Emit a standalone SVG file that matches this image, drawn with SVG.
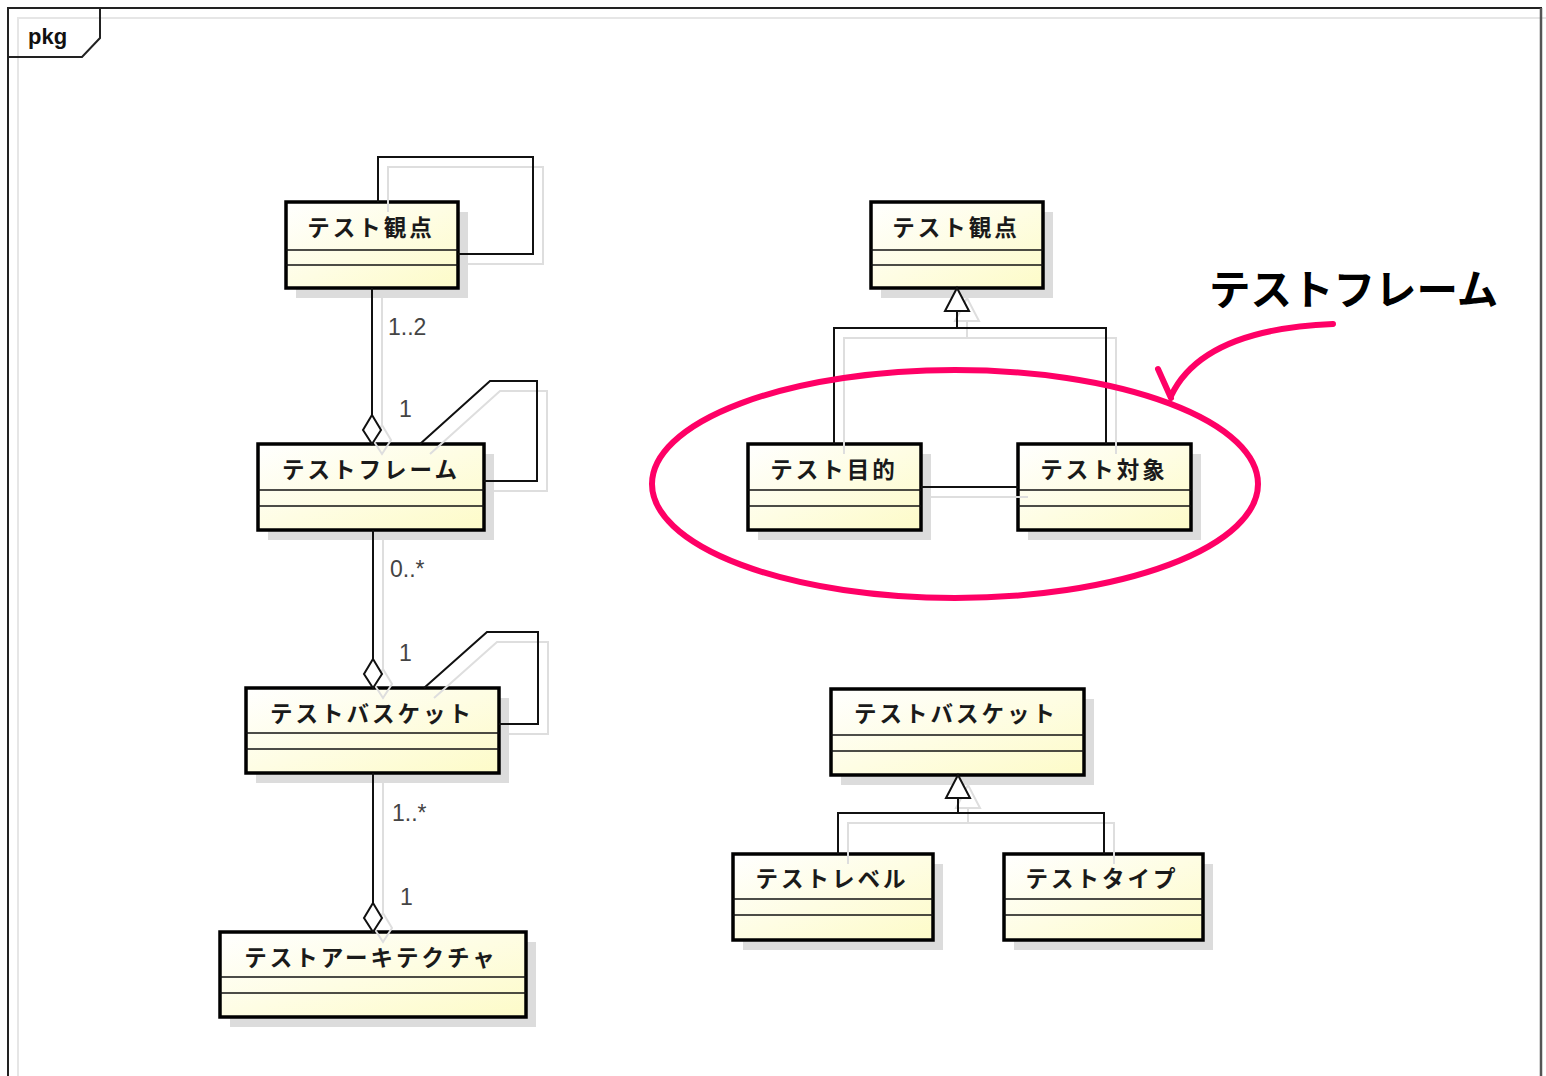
<svg xmlns="http://www.w3.org/2000/svg" width="1546" height="1076" viewBox="0 0 1546 1076">
<style>
.node rect.box{fill:url(#g);stroke:#000;stroke-width:3.5}
.node rect.sh{fill:#dcdcdc;stroke:none}
.node line{stroke:#111;stroke-width:1.5}
.node text{font-family:"Noto Sans CJK JP",sans-serif;font-size:22.5px;font-weight:bold;fill:#1a1a1a;letter-spacing:3px;text-anchor:middle}
.c{fill:none;stroke:#111;stroke-width:2}
.cs{fill:none;stroke:#dedede;stroke-width:2}
.m{font-family:"Liberation Sans",Arial,sans-serif;font-size:23px;fill:#444}
</style>
<defs>
<linearGradient id="g" x1="0" y1="0" x2="1" y2="1">
<stop offset="0" stop-color="#ffffff"/>
<stop offset="1" stop-color="#fdfbc8"/>
</linearGradient>
</defs>
<rect width="1546" height="1076" fill="#fff"/>
<g id="frame">
<path d="M18,1076 V18 H1546" fill="none" stroke="#e6e6e6" stroke-width="2"/>
<path d="M8,1076 V8 H1541 V1076" fill="none" stroke="#222" stroke-width="2"/>
<path d="M1541,8 V1076" stroke="#555" stroke-width="2.5"/>
<path d="M8,57 H82 L100,38 V8" fill="none" stroke="#222" stroke-width="2"/>
<text x="28" y="44" font-family="Liberation Sans,Arial,sans-serif" font-size="22" font-weight="bold" fill="#111">pkg</text>
</g>
<g id="n1" class="node"><rect class="sh" x="296" y="212" width="172" height="86"/><rect class="box" x="286" y="202" width="172" height="86"/><line x1="286" y1="250" x2="458" y2="250"/><line x1="286" y1="265" x2="458" y2="265"/><text x="371" y="236">テスト観点</text></g>
<g id="n2" class="node"><rect class="sh" x="268" y="454" width="226" height="86"/><rect class="box" x="258" y="444" width="226" height="86"/><line x1="258" y1="490" x2="484" y2="490"/><line x1="258" y1="506" x2="484" y2="506"/><text x="371" y="478">テストフレーム</text></g>
<g id="n3" class="node"><rect class="sh" x="256" y="698" width="253" height="85"/><rect class="box" x="246" y="688" width="253" height="85"/><line x1="246" y1="733" x2="499" y2="733"/><line x1="246" y1="749" x2="499" y2="749"/><text x="372" y="722">テストバスケット</text></g>
<g id="n4" class="node"><rect class="sh" x="230" y="942" width="306" height="85"/><rect class="box" x="220" y="932" width="306" height="85"/><line x1="220" y1="977" x2="526" y2="977"/><line x1="220" y1="993" x2="526" y2="993"/><text x="371" y="966">テストアーキテクチャ</text></g>
<g id="n5" class="node"><rect class="sh" x="881" y="212" width="172" height="86"/><rect class="box" x="871" y="202" width="172" height="86"/><line x1="871" y1="250" x2="1043" y2="250"/><line x1="871" y1="265" x2="1043" y2="265"/><text x="956" y="236">テスト観点</text></g>
<g id="n6" class="node"><rect class="sh" x="758" y="454" width="173" height="86"/><rect class="box" x="748" y="444" width="173" height="86"/><line x1="748" y1="490" x2="921" y2="490"/><line x1="748" y1="506" x2="921" y2="506"/><text x="834" y="478">テスト目的</text></g>
<g id="n7" class="node"><rect class="sh" x="1028" y="454" width="173" height="86"/><rect class="box" x="1018" y="444" width="173" height="86"/><line x1="1018" y1="490" x2="1191" y2="490"/><line x1="1018" y1="506" x2="1191" y2="506"/><text x="1104" y="478">テスト対象</text></g>
<g id="n8" class="node"><rect class="sh" x="841" y="699" width="253" height="86"/><rect class="box" x="831" y="689" width="253" height="86"/><line x1="831" y1="735" x2="1084" y2="735"/><line x1="831" y1="751" x2="1084" y2="751"/><text x="956" y="722">テストバスケット</text></g>
<g id="n9" class="node"><rect class="sh" x="743" y="864" width="200" height="86"/><rect class="box" x="733" y="854" width="200" height="86"/><line x1="733" y1="899" x2="933" y2="899"/><line x1="733" y1="915" x2="933" y2="915"/><text x="832" y="887">テストレベル</text></g>
<g id="n10" class="node"><rect class="sh" x="1014" y="864" width="199" height="86"/><rect class="box" x="1004" y="854" width="199" height="86"/><line x1="1004" y1="899" x2="1203" y2="899"/><line x1="1004" y1="915" x2="1203" y2="915"/><text x="1102" y="887">テストタイプ</text></g>
<g id="connectors">
<g transform="translate(10,10)" class="shadow">
<path class="cs" d="M378,202 V157 H533 V254 H458"/>
<path class="cs" d="M372,288 V415 M372,415 L381,430 L372,444 L363,430 Z"/>
<path class="cs" d="M420,444 L490,381 H537 V481 H484"/>
<path class="cs" d="M373,530 V659 M373,659 L382,674 L373,688 L364,674 Z"/>
<path class="cs" d="M424,688 L487,632 H538 V724 H499"/>
<path class="cs" d="M373,773 V903 M373,903 L382,918 L373,932 L364,918 Z"/>
<path class="cs" d="M957,288 L969,311 H945 Z M957,311 V328 M834,444 V328 H1106 V444"/>
<path class="cs" d="M921,487 H1018"/>
<path class="cs" d="M958,775 L970,798 H946 Z M958,798 V813 M838,854 V813 H1104 V854"/>
</g>
<path class="c" d="M378,202 V157 H533 V254 H458"/>
<path class="c" d="M372,288 V415"/>
<path class="c" style="fill:#fff" d="M372,415 L381,430 L372,444 L363,430 Z"/>
<path class="c" d="M420,444 L490,381 H537 V481 H484"/>
<path class="c" d="M373,530 V659"/>
<path class="c" style="fill:#fff" d="M373,659 L382,674 L373,688 L364,674 Z"/>
<path class="c" d="M424,688 L487,632 H538 V724 H499"/>
<path class="c" d="M373,773 V903"/>
<path class="c" style="fill:#fff" d="M373,903 L382,918 L373,932 L364,918 Z"/>
<path class="c" d="M957,311 V328 M834,444 V328 H1106 V444"/>
<path class="c" style="fill:#fff" d="M957,288 L969,311 H945 Z"/>
<path class="c" d="M921,487 H1018"/>
<path class="c" d="M958,798 V813 M838,854 V813 H1104 V854"/>
<path class="c" style="fill:#fff" d="M958,775 L970,798 H946 Z"/>
<text class="m" x="388" y="335">1..2</text>
<text class="m" x="399" y="417">1</text>
<text class="m" x="390" y="577">0..*</text>
<text class="m" x="399" y="661">1</text>
<text class="m" x="392" y="821">1..*</text>
<text class="m" x="400" y="905">1</text>
</g>
<g id="annotation">
<ellipse cx="955" cy="484" rx="303" ry="114" fill="none" stroke="#ff0066" stroke-width="6"/>
<path d="M1333,324 C1260,327 1195,345 1171,396 M1158,369 L1171,398" fill="none" stroke="#ff0066" stroke-width="6" stroke-linecap="round"/>
<text x="1209" y="305" font-family="Noto Sans CJK JP,sans-serif" font-size="41.5" font-weight="bold" fill="#000">テストフレーム</text>
</g>
</svg>
